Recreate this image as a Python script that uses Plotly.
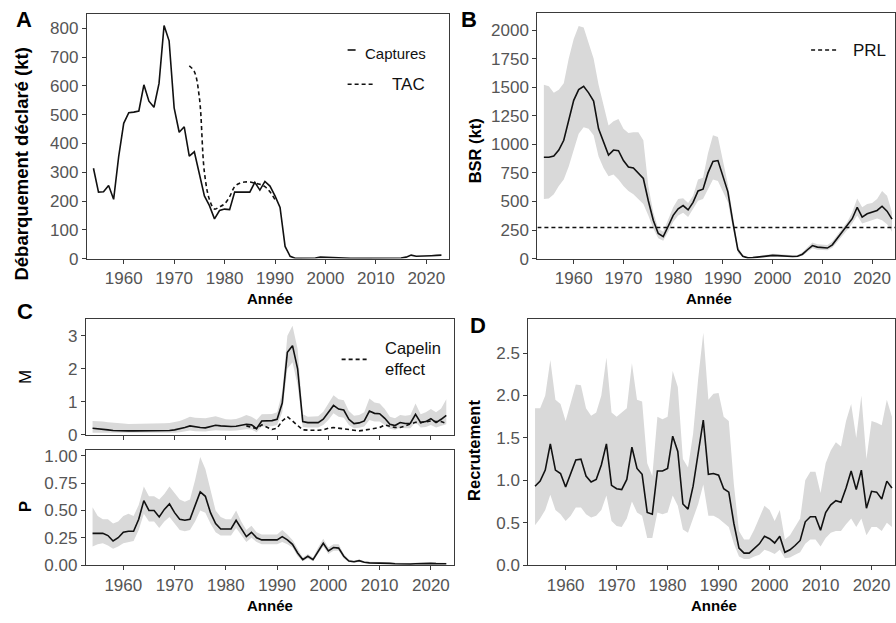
import plotly.graph_objects as go

# ---------------- DATA ----------------
years_A = list(range(1954, 2024))
captures = [314, 231, 232, 254, 206, 354, 470, 507, 509, 513,
            604, 547, 526, 609, 810, 757, 524, 439, 458, 356,
            371, 292, 218, 184, 138, 167, 172, 170, 231, 231,
            231, 231, 265, 238, 268, 252, 218, 178, 42, 8,
            1, 1, 1, 2, 2, 5, 4, 3, 2, 1,
            1, 1, 1, 1, 1, 1, 1, 2, 2, 2,
            2, 2, 5, 12, 8, 8, 9, 10, 11, 12]
years_TAC = list(range(1973, 1991))
tac = [670, 650, 560, 300, 205, 172, 180, 190, 215, 250, 262, 266, 266, 262, 258, 250, 232, 205]

years_B = list(range(1954, 2025))
bsr = [887, 887, 898, 950, 1036, 1222, 1385, 1479, 1508, 1451,
       1379, 1136, 1021, 907, 950, 944, 858, 801, 793, 750,
       701, 506, 335, 220, 192, 283, 378, 435, 464, 426,
       492, 592, 607, 750, 850, 858, 721, 584, 320, 77,
       20, 6, 8, 12, 18, 25, 28, 26, 22, 20,
       18, 20, 38, 77, 114, 100, 95, 92, 120, 177,
       235, 286, 349, 449, 363, 392, 406, 421, 458, 415, 345]
bsr_hi = [1522, 1508, 1451, 1479, 1536, 1751, 1923, 2037, 2023, 1894,
          1751, 1522, 1350, 1164, 1202, 1222, 1136, 1099, 1107, 1107,
          1036, 635, 406, 263, 235, 349, 449, 521, 529, 486,
          549, 692, 707, 921, 1079, 1064, 850, 650, 378, 106,
          30, 12, 14, 20, 28, 38, 42, 40, 35, 32,
          30, 32, 55, 100, 140, 125, 120, 118, 150, 210,
          270, 320, 406, 526, 449, 478, 486, 521, 592, 549, 406]
bsr_lo = [521, 526, 564, 635, 692, 807, 950, 1093, 1150, 1136,
          1079, 893, 793, 721, 735, 692, 635, 592, 564, 521,
          478, 378, 263, 177, 155, 235, 320, 378, 400, 363,
          435, 506, 521, 607, 692, 678, 578, 492, 263, 49,
          12, 3, 4, 7, 11, 16, 18, 16, 14, 12,
          11, 12, 25, 58, 90, 78, 75, 72, 95, 145,
          200, 249, 306, 378, 306, 320, 335, 350, 335, 300, 235]
prl = 272

years_C = list(range(1954, 2024))
m_val = [0.20, 0.19, 0.17, 0.15, 0.13, 0.12, 0.12, 0.12, 0.12, 0.12,
         0.12, 0.12, 0.12, 0.12, 0.13, 0.13, 0.15, 0.18, 0.22, 0.27,
         0.24, 0.22, 0.21, 0.25, 0.29, 0.27, 0.25, 0.25, 0.26, 0.29,
         0.32, 0.30, 0.19, 0.42, 0.42, 0.43, 0.47, 0.96, 2.50, 2.70,
         2.00, 0.40, 0.37, 0.37, 0.37, 0.47, 0.67, 0.89, 0.78, 0.75,
         0.47, 0.34, 0.36, 0.42, 0.72, 0.65, 0.64, 0.50, 0.32, 0.28,
         0.37, 0.34, 0.35, 0.62, 0.37, 0.40, 0.49, 0.37, 0.47, 0.59]
m_hi = [0.42, 0.42, 0.40, 0.38, 0.36, 0.35, 0.34, 0.33, 0.33, 0.33,
        0.33, 0.33, 0.33, 0.34, 0.35, 0.36, 0.38, 0.42, 0.48, 0.55,
        0.52, 0.50, 0.50, 0.53, 0.56, 0.52, 0.47, 0.46, 0.48, 0.53,
        0.60, 0.55, 0.45, 0.62, 0.62, 0.63, 0.68, 1.30, 3.00, 3.30,
        2.60, 0.62, 0.55, 0.55, 0.56, 0.70, 0.95, 1.20, 1.08, 1.05,
        0.72, 0.58, 0.60, 0.68, 1.10, 0.98, 0.95, 0.78, 0.55, 0.50,
        0.60, 0.58, 0.60, 0.95, 0.62, 0.68, 0.78, 0.68, 0.80, 1.08]
m_lo = [0.06, 0.06, 0.05, 0.05, 0.04, 0.04, 0.04, 0.04, 0.04, 0.04,
        0.04, 0.04, 0.04, 0.04, 0.04, 0.05, 0.06, 0.08, 0.10, 0.13,
        0.11, 0.10, 0.10, 0.12, 0.14, 0.13, 0.12, 0.12, 0.13, 0.15,
        0.17, 0.16, 0.08, 0.25, 0.25, 0.26, 0.30, 0.68, 2.00, 2.20,
        1.50, 0.24, 0.22, 0.22, 0.22, 0.30, 0.45, 0.65, 0.55, 0.52,
        0.30, 0.20, 0.21, 0.25, 0.45, 0.40, 0.40, 0.30, 0.18, 0.15,
        0.22, 0.20, 0.20, 0.38, 0.22, 0.24, 0.30, 0.22, 0.28, 0.32]
years_cap = list(range(1984, 2024))
capelin = [0.27, 0.24, 0.19, 0.30, 0.22, 0.16, 0.20, 0.42, 0.55, 0.42,
           0.27, 0.15, 0.14, 0.13, 0.14, 0.15, 0.20, 0.22, 0.20, 0.18,
           0.15, 0.12, 0.12, 0.14, 0.17, 0.20, 0.22, 0.30, 0.25, 0.22,
           0.22, 0.28, 0.33, 0.38, 0.37, 0.40, 0.42, 0.40, 0.40, 0.34]

p_val = [0.29, 0.29, 0.29, 0.27, 0.22, 0.25, 0.30, 0.31, 0.31, 0.42,
         0.59, 0.50, 0.50, 0.44, 0.51, 0.56, 0.48, 0.42, 0.41, 0.42,
         0.54, 0.67, 0.63, 0.48, 0.38, 0.33, 0.33, 0.33, 0.41, 0.33,
         0.26, 0.30, 0.25, 0.23, 0.23, 0.23, 0.23, 0.26, 0.23, 0.19,
         0.11, 0.05, 0.08, 0.05, 0.13, 0.20, 0.13, 0.16, 0.155, 0.08,
         0.036, 0.03, 0.04, 0.025, 0.02, 0.02, 0.02, 0.018, 0.015, 0.012,
         0.01, 0.01, 0.01, 0.012, 0.015, 0.015, 0.015, 0.013, 0.012, 0.012]
p_hi = [0.53, 0.45, 0.42, 0.42, 0.38, 0.40, 0.45, 0.47, 0.45, 0.55,
        0.72, 0.63, 0.63, 0.60, 0.65, 0.72, 0.66, 0.60, 0.58, 0.60,
        0.78, 0.99, 0.88, 0.70, 0.50, 0.44, 0.42, 0.42, 0.50, 0.40,
        0.32, 0.36, 0.30, 0.28, 0.28, 0.28, 0.28, 0.32, 0.28, 0.23,
        0.15, 0.07, 0.10, 0.07, 0.16, 0.24, 0.16, 0.19, 0.19, 0.10,
        0.05, 0.04, 0.05, 0.035, 0.03, 0.03, 0.03, 0.028, 0.025, 0.02,
        0.018, 0.018, 0.018, 0.02, 0.024, 0.024, 0.024, 0.022, 0.02, 0.02]
p_lo = [0.17, 0.19, 0.20, 0.18, 0.15, 0.17, 0.20, 0.21, 0.22, 0.32,
        0.47, 0.40, 0.40, 0.34, 0.40, 0.44, 0.38, 0.32, 0.31, 0.32,
        0.40, 0.50, 0.48, 0.38, 0.30, 0.27, 0.27, 0.27, 0.34, 0.27,
        0.21, 0.25, 0.21, 0.19, 0.19, 0.19, 0.19, 0.21, 0.19, 0.16,
        0.08, 0.035, 0.06, 0.035, 0.10, 0.17, 0.10, 0.13, 0.13, 0.06,
        0.025, 0.02, 0.028, 0.017, 0.013, 0.013, 0.013, 0.011, 0.009, 0.007,
        0.005, 0.005, 0.005, 0.006, 0.008, 0.008, 0.008, 0.007, 0.006, 0.006]

years_D = list(range(1954, 2025))
recr = [0.93, 0.99, 1.12, 1.43, 1.12, 1.08, 0.92, 1.08, 1.24, 1.25,
        1.05, 0.98, 1.01, 1.18, 1.43, 0.94, 0.90, 0.89, 1.01, 1.39,
        1.14, 1.07, 0.62, 0.60, 1.11, 1.11, 1.14, 1.52, 1.34, 0.72,
        0.66, 0.93, 1.34, 1.71, 1.07, 1.08, 1.06, 0.90, 0.86, 0.49,
        0.20, 0.14, 0.14, 0.20, 0.25, 0.34, 0.31, 0.26, 0.34, 0.15,
        0.18, 0.23, 0.29, 0.51, 0.57, 0.57, 0.41, 0.62, 0.71, 0.76,
        0.74, 0.91, 1.11, 0.89, 1.12, 0.67, 0.87, 0.86, 0.78, 0.99, 0.91]
recr_hi = [1.85, 1.85, 2.00, 2.42, 1.95, 1.90, 1.70, 1.92, 2.13, 2.12,
           1.85, 1.76, 1.80, 2.00, 2.45, 1.80, 1.75, 1.80, 1.85, 2.38,
           1.95, 1.93, 1.20, 1.05, 1.75, 1.72, 1.75, 2.29, 2.10, 1.25,
           1.15, 1.55, 2.20, 2.74, 1.95, 2.02, 2.03, 1.75, 1.70, 0.95,
           0.40, 0.30, 0.30, 0.42, 0.55, 0.70, 0.65, 0.52, 0.65, 0.30,
           0.35, 0.45, 0.55, 1.00, 1.10, 1.10, 0.85, 1.20, 1.35, 1.45,
           1.40, 1.70, 1.90, 1.50, 2.00, 1.25, 1.70, 1.68, 1.65, 1.95, 1.75]
recr_lo = [0.47, 0.55, 0.65, 0.83, 0.65, 0.60, 0.52, 0.58, 0.68, 0.68,
           0.60, 0.56, 0.58, 0.65, 0.82, 0.52, 0.46, 0.45, 0.55, 0.75,
           0.62, 0.58, 0.32, 0.32, 0.62, 0.60, 0.62, 0.82, 0.70, 0.42,
           0.38, 0.55, 0.72, 0.95, 0.58, 0.58, 0.55, 0.50, 0.45, 0.25,
           0.10, 0.07, 0.07, 0.10, 0.12, 0.18, 0.16, 0.13, 0.18, 0.08,
           0.09, 0.12, 0.15, 0.25, 0.30, 0.30, 0.22, 0.32, 0.38, 0.40,
           0.40, 0.48, 0.55, 0.45, 0.55, 0.35, 0.45, 0.45, 0.40, 0.50, 0.45]

xticks = [1960, 1970, 1980, 1990, 2000, 2010, 2020]

# ---------------- STYLE ----------------
W, H = 896, 623
LINE = "#111111"
BAND = "#d9d9d9"
AX = "#3a3a3a"
TICKFONT = dict(family="Liberation Sans, Arial, sans-serif", size=17, color="#555555")
FONT = "Liberation Sans, Arial, sans-serif"
XR = [1952.7, 2024.6]
DASH = "4px,3px"


def px(x):
    return x / W


def py(y):
    return 1 - y / H


fig = go.Figure()


def band(x, lo, hi, xa, ya):
    fig.add_trace(go.Scatter(x=x, y=lo, mode="lines", line=dict(width=0, color=BAND),
                             xaxis=xa, yaxis=ya, showlegend=False, hoverinfo="skip"))
    fig.add_trace(go.Scatter(x=x, y=hi, mode="lines", line=dict(width=0, color=BAND),
                             fill="tonexty", fillcolor=BAND,
                             xaxis=xa, yaxis=ya, showlegend=False, hoverinfo="skip"))


def line(x, y, xa, ya, dash=None, shape="linear", name=None):
    fig.add_trace(go.Scatter(x=x, y=y, mode="lines", name=name,
                             line=dict(color=LINE, width=1.6, dash=dash, shape=shape),
                             xaxis=xa, yaxis=ya, showlegend=False))


# A
line(years_A, captures, "x", "y", name="Captures")
line(years_TAC, tac, "x", "y", dash=DASH, shape="spline", name="TAC")
# B
band(years_B, bsr_lo, bsr_hi, "x2", "y2")
line(years_B, bsr, "x2", "y2", name="BSR")
line([XR[0], XR[1]], [prl, prl], "x2", "y2", dash=DASH, name="PRL")
# C - M
band(years_C, m_lo, m_hi, "x3", "y3")
line(years_C, m_val, "x3", "y3", name="M")
line(years_cap, capelin, "x3", "y3", dash=DASH, name="Capelin effect")
# C - P
band(years_C, p_lo, p_hi, "x4", "y4")
line(years_C, p_val, "x4", "y4", name="P")
# D
band(years_D, recr_lo, recr_hi, "x5", "y5")
line(years_D, recr, "x5", "y5", name="Recrutement")


def xax(domain, anchor, labels=True):
    return dict(domain=domain, anchor=anchor, range=XR, tickvals=xticks,
                showticklabels=labels, ticks="outside", ticklen=4, tickwidth=1.2,
                tickcolor=AX, showline=True, linecolor=AX, linewidth=1.2, mirror=True,
                showgrid=False, zeroline=False, tickfont=TICKFONT)


def yax(domain, anchor, rng, tickvals, ticktext):
    return dict(domain=domain, anchor=anchor, range=rng, tickvals=tickvals, ticktext=ticktext,
                ticks="outside", ticklen=4, tickwidth=1.2, tickcolor=AX,
                showline=True, linecolor=AX, linewidth=1.2, mirror=True,
                showgrid=False, zeroline=False, tickfont=TICKFONT)


A_x = [px(87), px(450)]
A_y = [py(261), py(11)]
B_x = [px(538), 1.0]
B_y = [py(261), py(10)]
C_x = [px(86), px(455)]
M_y = [py(441), py(323)]
P_y = [py(574), py(457)]
D_x = [px(529), 1.0]
D_y = [py(574), py(323)]

a_ticks = [0, 100, 200, 300, 400, 500, 600, 700, 800]
b_ticks = [0, 250, 500, 750, 1000, 1250, 1500, 1750, 2000]
m_ticks = [0, 1, 2, 3]
p_ticks = [0, 0.25, 0.5, 0.75, 1.0]
d_ticks = [0, 0.5, 1.0, 1.5, 2.0, 2.5]

fig.update_layout(
    width=W, height=H, margin=dict(l=0, r=0, t=0, b=0),
    paper_bgcolor="white", plot_bgcolor="white", showlegend=False,
    xaxis=xax(A_x, "y"),
    yaxis=yax(A_y, "x", [0, 851], a_ticks, [str(v) for v in a_ticks]),
    xaxis2=xax(B_x, "y2"),
    yaxis2=yax(B_y, "x2", [0, 2152], b_ticks, [str(v) for v in b_ticks]),
    xaxis3=xax(C_x, "y3", labels=False),
    yaxis3=yax(M_y, "x3", [0, 3.5], m_ticks, [str(v) for v in m_ticks]),
    xaxis4=xax(C_x, "y4"),
    yaxis4=yax(P_y, "x4", [0, 1.05], p_ticks, ["0.00", "0.25", "0.50", "0.75", "1.00"]),
    xaxis5=xax(D_x, "y5"),
    yaxis5=yax(D_y, "x5", [0, 2.9], d_ticks, ["0.0", "0.5", "1.0", "1.5", "2.0", "2.5"]),
)

ann = []


def text(t, x, y, size, bold=False, angle=0, xanchor="center", align="center", color="#000"):
    s = f"<b>{t}</b>" if bold else t
    ann.append(dict(text=s, x=px(x), y=py(y), xref="paper", yref="paper",
                    xanchor=xanchor, yanchor="middle", showarrow=False, textangle=angle,
                    align=align, font=dict(family=FONT, size=size, color=color)))


# panel letters
text("A", 24, 17, 22, bold=True)
text("B", 470, 17, 22, bold=True)
text("C", 25, 315, 22, bold=True)
text("D", 479, 329, 22, bold=True)
# x titles
text("Année", 270, 302, 15, bold=True)
text("Année", 710, 302, 15, bold=True)
text("Année", 270, 615, 15, bold=True)
text("Année", 715, 615, 15, bold=True)
# y titles
text("Débarquement déclaré (kt)", 22, 164, 18.5, bold=True, angle=-90)
text("BSR (kt)", 475, 151, 16.5, bold=True, angle=-90)
text("M", 25, 382, 17, angle=-90)
text("P", 25, 514, 17, bold=True, angle=-90)
text("Recrutement", 475, 457, 16.5, bold=True, angle=-90)
# legends text
text("Captures", 363, 52, 15, xanchor="left", color="#111")
text("TAC", 390, 83, 17, xanchor="left", color="#111")
text("PRL", 852, 49, 17, xanchor="left", color="#111")
text("Capelin<br>effect", 383, 363, 16.5, xanchor="left", align="left", color="#111")

fig.update_layout(annotations=ann)

shapes = []


def key(x0, x1, y, dash=None):
    shapes.append(dict(type="line", xref="paper", yref="paper",
                       x0=px(x0), x1=px(x1), y0=py(y), y1=py(y),
                       line=dict(color=LINE, width=1.6, dash=dash)))


key(348, 356, 48)
key(348, 375, 83, DASH)
key(812, 838, 48, DASH)
key(342, 368, 364, DASH)
fig.update_layout(shapes=shapes)

fig.write_html("out.html")
